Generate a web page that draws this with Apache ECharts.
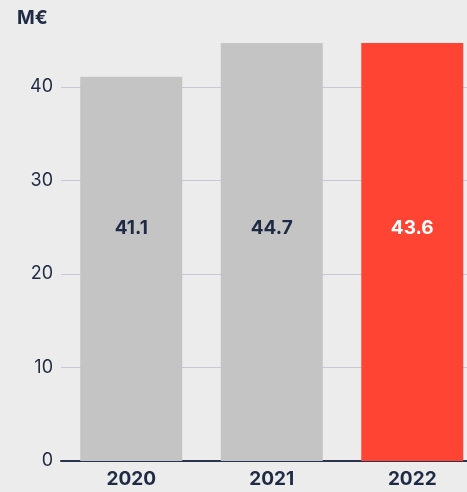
<!DOCTYPE html>
<html>
<head>
<meta charset="utf-8">
<script src="https://cdn.jsdelivr.net/npm/echarts@6/dist/echarts.min.js"></script>
<style>
html,body{margin:0;padding:0;background:#ececec;overflow:hidden;}
#c{width:467px;height:492px;}
</style>
</head>
<body>
<div id="c"></div>
<script>
const categories = ['2020', '2021', '2022'];
const barHeights = [41.1, 44.7, 44.7];
const barLabels = ['41.1', '44.7', '43.6'];
const yTicks = [0, 10, 20, 30, 40];
const unitLabel = 'M€';

const navy = '#1f2a44';
const chart = echarts.init(document.getElementById('c'));
chart.setOption({
  backgroundColor: '#ececec',
  animation: false,
  graphic: [{
    type: 'text', left: 17, top: 9,
    style: { text: unitLabel, fill: navy, font: 'bold 19px Inter' }
  }],
  grid: { left: 61, width: 421.5, bottom: 31, height: 467.5, outerBoundsMode: 'none', containLabel: false },
  xAxis: {
    type: 'category', data: categories,
    axisLine: { lineStyle: { color: '#2a3350', width: 2 } },
    axisTick: { show: false },
    axisLabel: { color: navy, fontFamily: 'Inter', fontWeight: 'bold', fontSize: 19, margin: 9 }
  },
  yAxis: {
    type: 'value', min: 0, max: 50, interval: 10,
    axisLine: { show: false }, axisTick: { show: false },
    axisLabel: { color: navy, fontFamily: 'Inter', fontSize: 18, margin: 8,
      formatter: v => yTicks.includes(v) ? String(v) : '' },
    splitLine: { lineStyle: { color: '#c6c8d8', width: 1 } }
  },
  series: [{
    type: 'bar', barCategoryGap: '27.4%',
    data: barHeights.map((v, i) => ({
      value: v,
      itemStyle: { color: i === 2 ? '#ff4433' : '#c4c4c4' },
      label: { color: i === 2 ? '#ffffff' : navy }
    })),
    label: {
      show: true, position: 'insideBottom', distance: 223,
      fontFamily: 'Inter', fontWeight: 'bold', fontSize: 19,
      formatter: p => barLabels[p.dataIndex]
    }
  }]
});
</script>
</body>
</html>
